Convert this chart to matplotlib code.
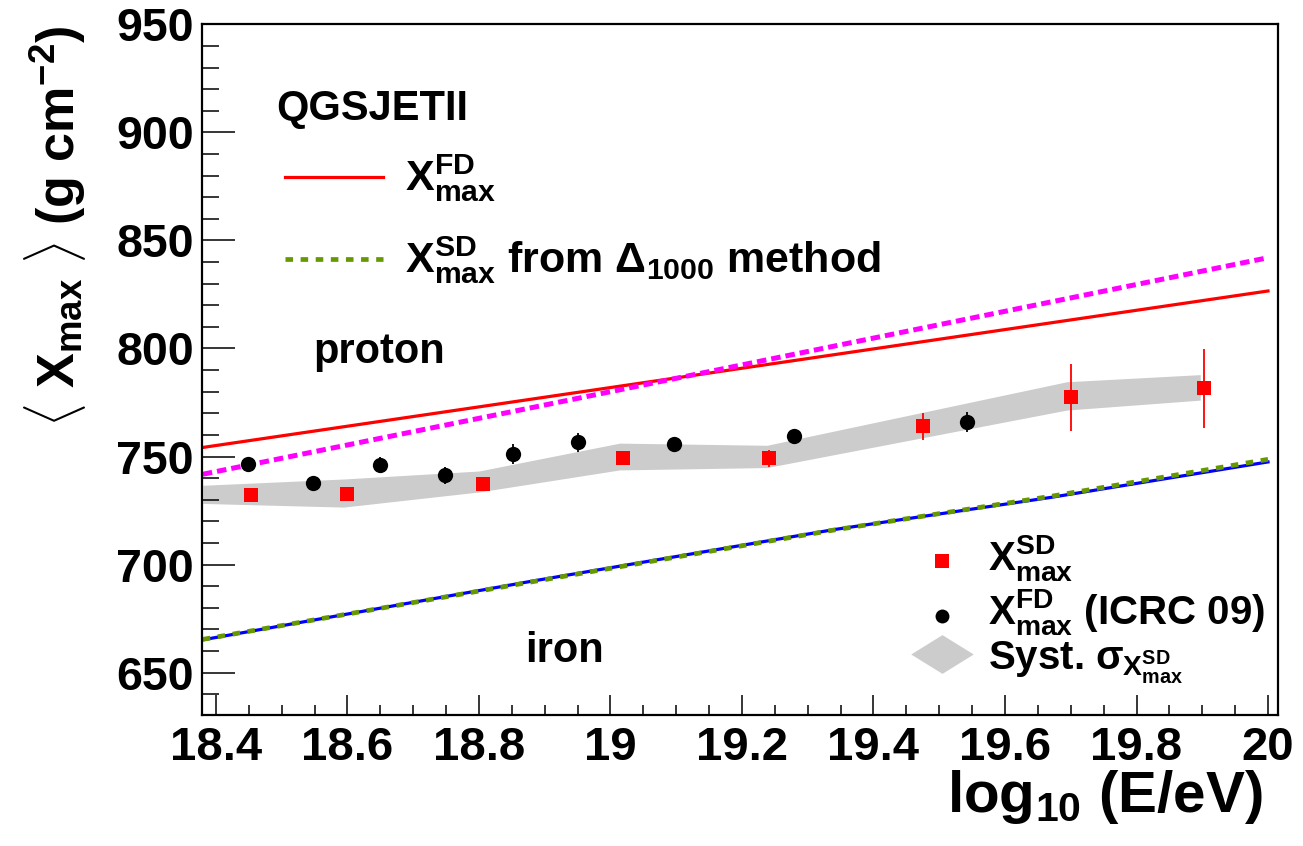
import matplotlib
matplotlib.use('Agg')
import matplotlib.pyplot as plt
from matplotlib.ticker import MultipleLocator, FixedLocator
from matplotlib.path import Path

plt.rcParams['font.family'] = ['Liberation Sans', 'DejaVu Sans']
plt.rcParams['font.weight'] = 'bold'
plt.rcParams['mathtext.fontset'] = 'custom'
plt.rcParams['mathtext.rm'] = 'Liberation Sans:bold'
plt.rcParams['mathtext.it'] = 'Liberation Sans:bold'
plt.rcParams['mathtext.bf'] = 'Liberation Sans:bold'
plt.rcParams['mathtext.sf'] = 'Liberation Sans:bold'

# ---------------- data ----------------
sd_lgE = [18.454, 18.600, 18.806, 19.019, 19.241, 19.476, 19.701, 19.902]
sd_xmax = [732.0, 732.5, 737.3, 749.1, 749.2, 763.9, 777.4, 781.6]
sd_err = [1.5, 1.5, 1.5, 2.0, 4.0, 6.2, 15.5, 18.2]

fd_lgE = [18.449, 18.548, 18.649, 18.748, 18.851, 18.951, 19.096, 19.279, 19.542]
fd_xmax = [746.4, 737.6, 746.0, 741.3, 751.1, 756.5, 755.7, 759.3, 766.1]
fd_err = [1.5, 2.0, 3.6, 3.8, 4.5, 4.5, 2.5, 3.6, 4.7]

band_lgE = [18.38, 18.594, 18.80, 19.014, 19.238, 19.694, 19.897]
band_lo = [728.3, 726.6, 733.6, 743.8, 744.9, 771.5, 776.1]
band_hi = [736.7, 739.6, 743.3, 756.2, 755.2, 784.6, 787.9]

proton_fd_lgE = [18.38, 18.984, 19.608, 20.0]
proton_fd = [754.2, 781.2, 809.1, 826.6]
proton_sd_lgE = [18.38, 19.0, 20.0]
proton_sd = [741.8, 780.0, 842.0]
iron_lgE = [18.38, 18.88, 19.34, 19.67, 20.0]
iron_fd = [665.2, 692.3, 716.2, 731.1, 747.5]
iron_sd = [665.4, 692.0, 716.0, 731.6, 748.7]

x_ticks = [18.4, 18.6, 18.8, 19.0, 19.2, 19.4, 19.6, 19.8, 20.0]
x_ticklabels = ['18.4', '18.6', '18.8', '19', '19.2', '19.4', '19.6', '19.8', '20']
y_ticks = [650, 700, 750, 800, 850, 900, 950]

RED = '#ff0000'
MAG = '#ff00ff'
BLUE = '#0000ff'
GREEN = '#669900'
GRAY = '#cccccc'

W, H = 1303, 846
fig = plt.figure(figsize=(W / 100, H / 100), dpi=100)
L, R, T, B = 202.3, 1278.0, 24.3, 715.0
ax = fig.add_axes([L / W, 1 - B / H, (R - L) / W, (B - T) / H])
ax.set_xlim(18.3792, 20.0152)
ax.set_ylim(630.4, 950)

def pa(px, py):
    return ((px - L) / (R - L), (B - py) / (B - T))

# band
ax.fill_between(band_lgE, band_lo, band_hi, color=GRAY, lw=0, zorder=1)

# model lines
ax.plot(proton_fd_lgE, proton_fd, color=RED, lw=2.3, zorder=2)
ax.plot(proton_sd_lgE, proton_sd, color=MAG, lw=3.6, dashes=(1.9, 1.0), zorder=2)
ax.plot(iron_lgE, iron_fd, color=BLUE, lw=2.3, zorder=2)
ax.plot(iron_lgE, iron_sd, color=GREEN, lw=3.4, dashes=(1.6, 1.6), zorder=2)

# data points
ax.errorbar(sd_lgE, sd_xmax, yerr=sd_err, fmt='s', color=RED, ms=10.5, mew=0,
            elinewidth=1.3, capsize=5, capthick=1.3, zorder=4)
ax.errorbar(fd_lgE, fd_xmax, yerr=fd_err, fmt='o', color='black', ms=11, mew=0,
            elinewidth=1.3, capsize=4, capthick=1.3, zorder=3)

# axes styling
ax.xaxis.set_major_locator(FixedLocator(x_ticks))
ax.set_xticklabels(x_ticklabels)
ax.xaxis.set_minor_locator(MultipleLocator(0.05))
ax.yaxis.set_major_locator(FixedLocator(y_ticks))
ax.yaxis.set_minor_locator(MultipleLocator(10))
ax.tick_params(axis='x', which='major', direction='in', length=14.4, width=1.1,
               labelsize=34, pad=8)
ax.tick_params(axis='x', which='minor', direction='in', length=7.2, width=1.1)
ax.tick_params(axis='y', which='major', direction='in', length=23.8, width=1.1,
               labelsize=33.5, pad=6)
ax.tick_params(axis='y', which='minor', direction='in', length=12, width=1.1)
for lab in ax.get_xticklabels() + ax.get_yticklabels():
    lab.set_fontweight('bold')
for s in ax.spines.values():
    s.set_linewidth(1.6)

# axis titles
fig.text(1263 / W, 1 - 812 / H, r'log$_{10}$ (E/eV)', fontsize=42,
         fontweight='bold', ha='right', va='baseline')
fig.text(55 / W, 1 - 26 / H, r'$\langle$ X$_{\mathrm{max}}$ $\rangle$ (g cm$^{-2}$)',
         fontsize=37.5, fontweight='bold', rotation=90, ha='center', va='top')

# annotations
ax.text(*pa(313, 363), 'proton', transform=ax.transAxes, fontsize=30, fontweight='bold')
ax.text(*pa(525, 662), 'iron', transform=ax.transAxes, fontsize=30, fontweight='bold')

# upper-left legend (manual, ROOT style)
ax.text(*pa(276, 120), 'QGSJETII', transform=ax.transAxes, fontsize=30, fontweight='bold')
ax.plot([pa(285, 0)[0], pa(383, 0)[0]], [pa(0, 177)[1]] * 2, color=RED, lw=2.3,
        transform=ax.transAxes, clip_on=False)
ax.text(*pa(405, 190), r'X$^{\mathrm{FD}}_{\mathrm{max}}$', transform=ax.transAxes,
        fontsize=31, fontweight='bold')
ax.plot([pa(285, 0)[0], pa(383, 0)[0]], [pa(0, 259)[1]] * 2, color=GREEN, lw=3.4,
        dashes=(1.6, 1.6), transform=ax.transAxes, clip_on=False)
ax.text(*pa(405, 272), r'X$^{\mathrm{SD}}_{\mathrm{max}}$ from $\Delta_{1000}$ method',
        transform=ax.transAxes, fontsize=31, fontweight='bold')

# lower-right legend
ax.plot(*pa(942, 561), 's', color=RED, ms=10, mew=0, transform=ax.transAxes)
ax.text(*pa(988, 570), r'X$^{\mathrm{SD}}_{\mathrm{max}}$', transform=ax.transAxes,
        fontsize=29, fontweight='bold')
ax.plot(*pa(942, 616), 'o', color='black', ms=10, mew=0, transform=ax.transAxes)
ax.text(*pa(988, 624), r'X$^{\mathrm{FD}}_{\mathrm{max}}$ (ICRC 09)', transform=ax.transAxes,
        fontsize=29, fontweight='bold')
diamond = Path([(-1, 0), (0, 0.62), (1, 0), (0, -0.62), (-1, 0)],
               [Path.MOVETO, Path.LINETO, Path.LINETO, Path.LINETO, Path.CLOSEPOLY])
ax.plot(*pa(942, 654), marker=diamond, color=GRAY, ms=45, mew=0, transform=ax.transAxes)
ax.text(*pa(988, 670), r'Syst. $\sigma_{\mathrm{X}^{\mathrm{SD}}_{\mathrm{max}}}$',
        transform=ax.transAxes, fontsize=29, fontweight='bold')

fig.savefig('out.png', dpi=100)
